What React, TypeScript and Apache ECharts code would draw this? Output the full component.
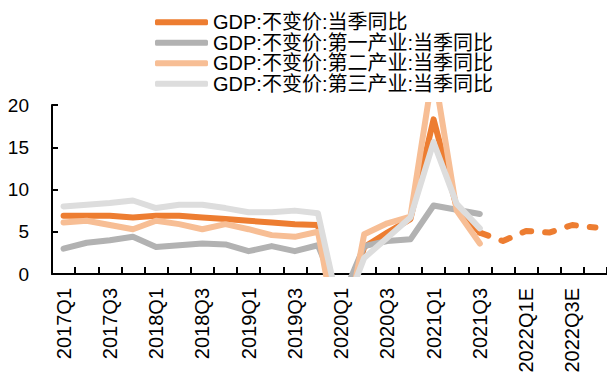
import React, { useEffect, useRef } from "react";
import * as echarts from "echarts";

const categories = [
  "2017Q1", "2017Q2", "2017Q3", "2017Q4",
  "2018Q1", "2018Q2", "2018Q3", "2018Q4",
  "2019Q1", "2019Q2", "2019Q3", "2019Q4",
  "2020Q1", "2020Q2", "2020Q3", "2020Q4",
  "2021Q1", "2021Q2", "2021Q3", "2021Q4",
  "2022Q1E", "2022Q2E", "2022Q3E", "2022Q4E",
];

const gdp = [6.9, 6.9, 6.9, 6.7, 6.9, 6.9, 6.7, 6.5, 6.3, 6.1, 5.9, 5.8, -6.8, 3.2, 4.9, 6.5, 18.3, 7.9, 4.9, null, null, null, null, null];
const primary = [3.0, 3.7, 4.0, 4.4, 3.2, 3.4, 3.6, 3.5, 2.7, 3.3, 2.7, 3.4, -3.2, 3.3, 3.9, 4.1, 8.1, 7.6, 7.1, null, null, null, null, null];
const secondary = [6.1, 6.3, 5.8, 5.3, 6.3, 5.9, 5.3, 5.9, 5.3, 4.6, 4.4, 5.0, -9.6, 4.7, 6.0, 6.8, 24.4, 7.5, 3.6, null, null, null, null, null];
const tertiary = [8.0, 8.2, 8.4, 8.7, 7.8, 8.2, 8.2, 7.8, 7.3, 7.3, 7.5, 7.2, -5.2, 1.9, 4.3, 6.7, 15.6, 8.3, 5.4, null, null, null, null, null];
const gdpForecast = [null, null, null, null, null, null, null, null, null, null, null, null, null, null, null, null, null, null, 4.9, 3.9, 5.1, 4.9, 5.8, 5.5];

const seriesNames = [
  "GDP:不变价:当季同比",
  "GDP:不变价:第一产业:当季同比",
  "GDP:不变价:第二产业:当季同比",
  "GDP:不变价:第三产业:当季同比",
];
const colors = ["#ED7D31", "#B2B2B2", "#F7BE95", "#DDDDDD"];

const FONT = "'Liberation Sans', Arial, 'Noto Sans CJK SC', sans-serif";

export default function App() {
  const ref = useRef<HTMLDivElement>(null);
  useEffect(() => {
    if (!ref.current) return;
    const chart = echarts.init(ref.current, undefined, { renderer: "svg" });
    const datas = [gdp, primary, secondary, tertiary];
    const series: any[] = datas.map((d, i) => ({
      name: seriesNames[i],
      type: "line",
      data: d,
      symbol: "none",
      clip: true,
      lineStyle: { color: colors[i], width: 6, cap: "round", join: "round" },
      itemStyle: { color: colors[i] },
    }));
    series.push({
      name: "GDP预测",
      type: "line",
      data: gdpForecast,
      symbol: "none",
      z: 1,
      lineStyle: { color: colors[0], width: 6, type: [9, 14], cap: "round", join: "round" },
      itemStyle: { color: colors[0] },
    });
    chart.setOption({
      animation: false,
      textStyle: { fontFamily: FONT },
      legend: {
        orient: "vertical",
        left: 155,
        top: 12,
        padding: 0,
        itemGap: 0,
        itemWidth: 53,
        itemHeight: 6,
        icon: "roundRect",
        data: seriesNames,
        textStyle: { fontSize: 20, lineHeight: 20.5, color: "#000", fontFamily: FONT },
      },
      grid: { left: 52, right: 0, top: 105, bottom: 102, containLabel: false },
      xAxis: {
        type: "category",
        data: categories,
        boundaryGap: true,
        axisLine: { lineStyle: { color: "#000", width: 2 } },
        axisTick: { show: true, inside: true, length: 7, interval: 0, lineStyle: { color: "#000", width: 2 } },
        axisLabel: { interval: 1, rotate: 90, margin: 14, fontSize: 20, color: "#000", fontFamily: FONT },
        splitLine: { show: false },
      },
      yAxis: {
        type: "value",
        min: 0,
        max: 20,
        interval: 5,
        axisLine: { show: true, lineStyle: { color: "#000", width: 2 } },
        axisTick: { show: true, inside: true, length: 6, lineStyle: { color: "#000", width: 2 } },
        axisLabel: { margin: 23, fontSize: 19, color: "#000", fontFamily: FONT },
        splitLine: { show: false },
      },
      series,
    });
    return () => chart.dispose();
  }, []);
  return (
    <div
      ref={ref}
      style={{ position: "fixed", left: 0, top: 0, width: 607, height: 376, background: "#fff" }}
    />
  );
}
